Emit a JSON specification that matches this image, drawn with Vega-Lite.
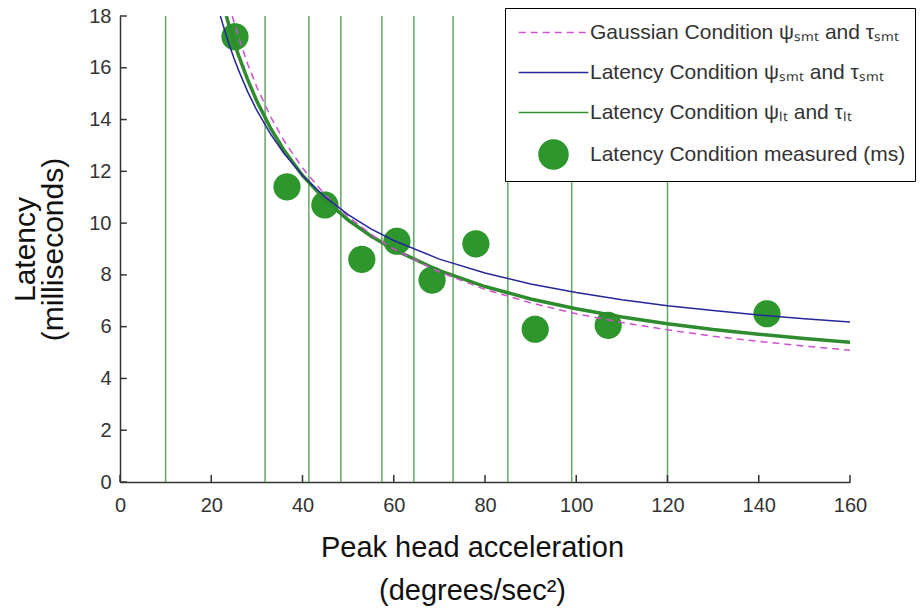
{
  "$schema": "https://vega.github.io/schema/vega-lite/v6.json",
  "width": 730,
  "height": 466,
  "autosize": {"type": "none"},
  "padding": {"left": 120, "top": 16, "right": 73, "bottom": 127},
  "background": "white",
  "config": {"view": {"stroke": null}, "font": "Liberation Sans"},
  "datasets": {
    "vl": [{"x": 10}, {"x": 31.8}, {"x": 41.4}, {"x": 48.4}, {"x": 57.4}, {"x": 64.4}, {"x": 73}, {"x": 85}, {"x": 99}, {"x": 120}],
    "xt": [{"x": 0}, {"x": 20}, {"x": 40}, {"x": 60}, {"x": 80}, {"x": 100}, {"x": 120}, {"x": 140}, {"x": 160}],
    "yt": [{"y": 0}, {"y": 2}, {"y": 4}, {"y": 6}, {"y": 8}, {"y": 10}, {"y": 12}, {"y": 14}, {"y": 16}, {"y": 18}],
    "pts": [
      {"s": "Latency Condition measured (ms)", "x": 25.2, "y": 17.2},
      {"s": "Latency Condition measured (ms)", "x": 36.6, "y": 11.4},
      {"s": "Latency Condition measured (ms)", "x": 44.9, "y": 10.7},
      {"s": "Latency Condition measured (ms)", "x": 53, "y": 8.6},
      {"s": "Latency Condition measured (ms)", "x": 60.7, "y": 9.3},
      {"s": "Latency Condition measured (ms)", "x": 68.4, "y": 7.8},
      {"s": "Latency Condition measured (ms)", "x": 78, "y": 9.2},
      {"s": "Latency Condition measured (ms)", "x": 91, "y": 5.9},
      {"s": "Latency Condition measured (ms)", "x": 107, "y": 6.05},
      {"s": "Latency Condition measured (ms)", "x": 141.8, "y": 6.5}
    ],
    "curves": [
      {"s": "Gaussian Condition ψₛₘₜ and τₛₘₜ", "x": 24.6, "y": 18.0},
      {"s": "Gaussian Condition ψₛₘₜ and τₛₘₜ", "x": 26, "y": 17.17},
      {"s": "Gaussian Condition ψₛₘₜ and τₛₘₜ", "x": 28, "y": 16.14},
      {"s": "Gaussian Condition ψₛₘₜ and τₛₘₜ", "x": 30, "y": 15.25},
      {"s": "Gaussian Condition ψₛₘₜ and τₛₘₜ", "x": 33, "y": 14.11},
      {"s": "Gaussian Condition ψₛₘₜ and τₛₘₜ", "x": 36, "y": 13.17},
      {"s": "Gaussian Condition ψₛₘₜ and τₛₘₜ", "x": 40, "y": 12.13},
      {"s": "Gaussian Condition ψₛₘₜ and τₛₘₜ", "x": 45, "y": 11.08},
      {"s": "Gaussian Condition ψₛₘₜ and τₛₘₜ", "x": 50, "y": 10.25},
      {"s": "Gaussian Condition ψₛₘₜ and τₛₘₜ", "x": 55, "y": 9.57},
      {"s": "Gaussian Condition ψₛₘₜ and τₛₘₜ", "x": 60, "y": 9.0},
      {"s": "Gaussian Condition ψₛₘₜ and τₛₘₜ", "x": 70, "y": 8.11},
      {"s": "Gaussian Condition ψₛₘₜ and τₛₘₜ", "x": 80, "y": 7.44},
      {"s": "Gaussian Condition ψₛₘₜ and τₛₘₜ", "x": 90, "y": 6.92},
      {"s": "Gaussian Condition ψₛₘₜ and τₛₘₜ", "x": 100, "y": 6.5},
      {"s": "Gaussian Condition ψₛₘₜ and τₛₘₜ", "x": 110, "y": 6.16},
      {"s": "Gaussian Condition ψₛₘₜ and τₛₘₜ", "x": 120, "y": 5.88},
      {"s": "Gaussian Condition ψₛₘₜ and τₛₘₜ", "x": 130, "y": 5.63},
      {"s": "Gaussian Condition ψₛₘₜ and τₛₘₜ", "x": 140, "y": 5.43},
      {"s": "Gaussian Condition ψₛₘₜ and τₛₘₜ", "x": 150, "y": 5.25},
      {"s": "Gaussian Condition ψₛₘₜ and τₛₘₜ", "x": 160, "y": 5.09},
      {"s": "Latency Condition ψₛₘₜ and τₛₘₜ", "x": 22, "y": 18.0},
      {"s": "Latency Condition ψₛₘₜ and τₛₘₜ", "x": 23, "y": 17.41},
      {"s": "Latency Condition ψₛₘₜ and τₛₘₜ", "x": 24, "y": 16.86},
      {"s": "Latency Condition ψₛₘₜ and τₛₘₜ", "x": 25, "y": 16.36},
      {"s": "Latency Condition ψₛₘₜ and τₛₘₜ", "x": 26, "y": 15.9},
      {"s": "Latency Condition ψₛₘₜ and τₛₘₜ", "x": 28, "y": 15.07},
      {"s": "Latency Condition ψₛₘₜ and τₛₘₜ", "x": 30, "y": 14.35},
      {"s": "Latency Condition ψₛₘₜ and τₛₘₜ", "x": 33, "y": 13.44},
      {"s": "Latency Condition ψₛₘₜ and τₛₘₜ", "x": 36, "y": 12.68},
      {"s": "Latency Condition ψₛₘₜ and τₛₘₜ", "x": 40, "y": 11.84},
      {"s": "Latency Condition ψₛₘₜ and τₛₘₜ", "x": 45, "y": 11.0},
      {"s": "Latency Condition ψₛₘₜ and τₛₘₜ", "x": 50, "y": 10.33},
      {"s": "Latency Condition ψₛₘₜ and τₛₘₜ", "x": 55, "y": 9.78},
      {"s": "Latency Condition ψₛₘₜ and τₛₘₜ", "x": 60, "y": 9.33},
      {"s": "Latency Condition ψₛₘₜ and τₛₘₜ", "x": 70, "y": 8.61},
      {"s": "Latency Condition ψₛₘₜ and τₛₘₜ", "x": 80, "y": 8.07},
      {"s": "Latency Condition ψₛₘₜ and τₛₘₜ", "x": 90, "y": 7.65},
      {"s": "Latency Condition ψₛₘₜ and τₛₘₜ", "x": 100, "y": 7.32},
      {"s": "Latency Condition ψₛₘₜ and τₛₘₜ", "x": 110, "y": 7.04},
      {"s": "Latency Condition ψₛₘₜ and τₛₘₜ", "x": 120, "y": 6.81},
      {"s": "Latency Condition ψₛₘₜ and τₛₘₜ", "x": 130, "y": 6.62},
      {"s": "Latency Condition ψₛₘₜ and τₛₘₜ", "x": 140, "y": 6.45},
      {"s": "Latency Condition ψₛₘₜ and τₛₘₜ", "x": 150, "y": 6.31},
      {"s": "Latency Condition ψₛₘₜ and τₛₘₜ", "x": 160, "y": 6.18},
      {"s": "Latency Condition ψₗₜ and τₗₜ", "x": 23.3, "y": 18.0},
      {"s": "Latency Condition ψₗₜ and τₗₜ", "x": 24, "y": 17.57},
      {"s": "Latency Condition ψₗₜ and τₗₜ", "x": 25, "y": 17.0},
      {"s": "Latency Condition ψₗₜ and τₗₜ", "x": 26, "y": 16.47},
      {"s": "Latency Condition ψₗₜ and τₗₜ", "x": 28, "y": 15.53},
      {"s": "Latency Condition ψₗₜ and τₗₜ", "x": 30, "y": 14.71},
      {"s": "Latency Condition ψₗₜ and τₗₜ", "x": 33, "y": 13.67},
      {"s": "Latency Condition ψₗₜ and τₗₜ", "x": 36, "y": 12.8},
      {"s": "Latency Condition ψₗₜ and τₗₜ", "x": 40, "y": 11.84},
      {"s": "Latency Condition ψₗₜ and τₗₜ", "x": 45, "y": 10.89},
      {"s": "Latency Condition ψₗₜ and τₗₜ", "x": 50, "y": 10.12},
      {"s": "Latency Condition ψₗₜ and τₗₜ", "x": 55, "y": 9.5},
      {"s": "Latency Condition ψₗₜ and τₗₜ", "x": 60, "y": 8.98},
      {"s": "Latency Condition ψₗₜ and τₗₜ", "x": 70, "y": 8.16},
      {"s": "Latency Condition ψₗₜ and τₗₜ", "x": 80, "y": 7.55},
      {"s": "Latency Condition ψₗₜ and τₗₜ", "x": 90, "y": 7.07},
      {"s": "Latency Condition ψₗₜ and τₗₜ", "x": 100, "y": 6.69},
      {"s": "Latency Condition ψₗₜ and τₗₜ", "x": 110, "y": 6.37},
      {"s": "Latency Condition ψₗₜ and τₗₜ", "x": 120, "y": 6.11},
      {"s": "Latency Condition ψₗₜ and τₗₜ", "x": 130, "y": 5.89},
      {"s": "Latency Condition ψₗₜ and τₗₜ", "x": 140, "y": 5.71},
      {"s": "Latency Condition ψₗₜ and τₗₜ", "x": 150, "y": 5.54},
      {"s": "Latency Condition ψₗₜ and τₗₜ", "x": 160, "y": 5.4}
    ]
  },
  "layer": [
    {
      "data": {"name": "vl"},
      "mark": {"type": "rule", "color": "#62a862", "strokeWidth": 1.5},
      "encoding": {
        "x": {
          "field": "x", "type": "quantitative",
          "scale": {"domain": [0, 160], "nice": false, "zero": false},
          "axis": {
            "values": [0, 20, 40, 60, 80, 100, 120, 140, 160],
            "grid": false,
            "domainColor": "#333", "domainWidth": 1.5,
            "ticks": false,
            "labelFont": "Liberation Sans Narrow, Liberation Sans, sans-serif",
            "labelFontSize": 20, "labelColor": "#333", "labelPadding": 13,
            "labelFlush": false,
            "title": ["Peak head acceleration", "(degrees/sec²)"],
            "titleFont": "Liberation Sans", "titleFontSize": 29, "titleFontWeight": "normal",
            "titleColor": "#111", "titleLineHeight": 43, "titlePadding": 18,
            "titleX": 352
          }
        }
      }
    },
    {
      "data": {"name": "xt"},
      "mark": {"type": "rule", "color": "#333", "strokeWidth": 1.5},
      "encoding": {
        "x": {"field": "x", "type": "quantitative"},
        "y": {"datum": 0, "type": "quantitative"},
        "y2": {"datum": 0.27}
      }
    },
    {
      "data": {"name": "yt"},
      "mark": {"type": "rule", "color": "#333", "strokeWidth": 1.5},
      "encoding": {
        "y": {"field": "y", "type": "quantitative"},
        "x": {"datum": 0, "type": "quantitative"},
        "x2": {"datum": 1.5}
      }
    },
    {
      "data": {"name": "pts"},
      "mark": {"type": "point", "filled": false, "opacity": 1, "size": 660},
      "encoding": {
        "x": {"field": "x", "type": "quantitative"},
        "y": {
          "field": "y", "type": "quantitative",
          "scale": {"domain": [0, 18], "nice": false},
          "axis": {
            "values": [0, 2, 4, 6, 8, 10, 12, 14, 16, 18],
            "grid": false,
            "domainColor": "#333", "domainWidth": 1.5,
            "ticks": false,
            "labelFont": "Liberation Sans Narrow, Liberation Sans, sans-serif",
            "labelFontSize": 20, "labelColor": "#333", "labelPadding": 9,
            "labelFlush": false,
            "title": ["Latency", "(milliseconds)"],
            "titleFont": "Liberation Sans", "titleFontSize": 30, "titleFontWeight": "normal",
            "titleColor": "#111", "titleLineHeight": 28, "titlePadding": 20
          }
        },
        "color": {
          "field": "s", "type": "nominal",
          "scale": {
            "domain": ["Gaussian Condition ψₛₘₜ and τₛₘₜ", "Latency Condition ψₛₘₜ and τₛₘₜ", "Latency Condition ψₗₜ and τₗₜ", "Latency Condition measured (ms)"],
            "range": ["#d14fd1", "#26269a", "#2e8b2e", "#2d962d"]
          },
          "legend": {
            "orient": "none", "legendX": 385, "legendY": -8, "title": null,
            "strokeColor": "#000", "fillColor": "#fff", "padding": 9,
            "symbolSize": 841, "symbolOffset": 24, "labelOffset": 21, "rowPadding": 14,
            "labelFont": "Liberation Sans", "labelFontSize": 21, "labelColor": "#333", "labelLimit": 600
          }
        },
        "fill": {
          "field": "s", "type": "nominal",
          "scale": {
            "domain": ["Gaussian Condition ψₛₘₜ and τₛₘₜ", "Latency Condition ψₛₘₜ and τₛₘₜ", "Latency Condition ψₗₜ and τₗₜ", "Latency Condition measured (ms)"],
            "range": ["transparent", "transparent", "transparent", "#2d962d"]
          },
          "legend": {
            "orient": "none", "legendX": 385, "legendY": -8, "title": null,
            "strokeColor": "#000", "fillColor": "#fff", "padding": 9,
            "symbolSize": 841, "symbolOffset": 24, "labelOffset": 21, "rowPadding": 14,
            "labelFont": "Liberation Sans", "labelFontSize": 21, "labelColor": "#333", "labelLimit": 600
          }
        },
        "shape": {
          "field": "s", "type": "nominal",
          "scale": {
            "domain": ["Gaussian Condition ψₛₘₜ and τₛₘₜ", "Latency Condition ψₛₘₜ and τₛₘₜ", "Latency Condition ψₗₜ and τₗₜ", "Latency Condition measured (ms)"],
            "range": ["M-2.4,0H2.4", "M-2.4,0H2.4", "M-2.4,0H2.4", "circle"]
          },
          "legend": {
            "orient": "none", "legendX": 385, "legendY": -8, "title": null,
            "strokeColor": "#000", "fillColor": "#fff", "padding": 9,
            "symbolSize": 841, "symbolOffset": 24, "labelOffset": 21, "rowPadding": 14,
            "labelFont": "Liberation Sans", "labelFontSize": 21, "labelColor": "#333", "labelLimit": 600
          }
        },
        "strokeWidth": {
          "field": "s", "type": "nominal",
          "scale": {
            "domain": ["Gaussian Condition ψₛₘₜ and τₛₘₜ", "Latency Condition ψₛₘₜ and τₛₘₜ", "Latency Condition ψₗₜ and τₗₜ", "Latency Condition measured (ms)"],
            "range": [1.5, 1.5, 3, 1]
          },
          "legend": {
            "orient": "none", "legendX": 385, "legendY": -8, "title": null,
            "strokeColor": "#000", "fillColor": "#fff", "padding": 9,
            "symbolSize": 841, "symbolOffset": 24, "labelOffset": 21, "rowPadding": 14,
            "labelFont": "Liberation Sans", "labelFontSize": 21, "labelColor": "#333", "labelLimit": 600
          }
        },
        "strokeDash": {
          "field": "s", "type": "nominal",
          "scale": {
            "domain": ["Gaussian Condition ψₛₘₜ and τₛₘₜ", "Latency Condition ψₛₘₜ and τₛₘₜ", "Latency Condition ψₗₜ and τₗₜ", "Latency Condition measured (ms)"],
            "range": [[7, 5], [1, 0], [1, 0], [1, 0]]
          },
          "legend": {
            "orient": "none", "legendX": 385, "legendY": -8, "title": null,
            "strokeColor": "#000", "fillColor": "#fff", "padding": 9,
            "symbolSize": 841, "symbolOffset": 24, "labelOffset": 21, "rowPadding": 14,
            "labelFont": "Liberation Sans", "labelFontSize": 21, "labelColor": "#333", "labelLimit": 600
          }
        }
      }
    },
    {
      "data": {"name": "curves"},
      "transform": [{"filter": "datum.s === 'Latency Condition ψₗₜ and τₗₜ'"}],
      "mark": {"type": "line", "strokeWidth": 3.5, "clip": true},
      "encoding": {
        "x": {"field": "x", "type": "quantitative"},
        "y": {"field": "y", "type": "quantitative"},
        "color": {"field": "s", "type": "nominal", "legend": null}
      }
    },
    {
      "data": {"name": "curves"},
      "transform": [{"filter": "datum.s === 'Gaussian Condition ψₛₘₜ and τₛₘₜ'"}],
      "mark": {"type": "line", "strokeWidth": 1.5, "strokeDash": [7, 5], "clip": true},
      "encoding": {
        "x": {"field": "x", "type": "quantitative"},
        "y": {"field": "y", "type": "quantitative"},
        "color": {"field": "s", "type": "nominal", "legend": null}
      }
    },
    {
      "data": {"name": "curves"},
      "transform": [{"filter": "datum.s === 'Latency Condition ψₛₘₜ and τₛₘₜ'"}],
      "mark": {"type": "line", "strokeWidth": 1.5, "clip": true},
      "encoding": {
        "x": {"field": "x", "type": "quantitative"},
        "y": {"field": "y", "type": "quantitative"},
        "color": {"field": "s", "type": "nominal", "legend": null}
      }
    }
  ]
}
